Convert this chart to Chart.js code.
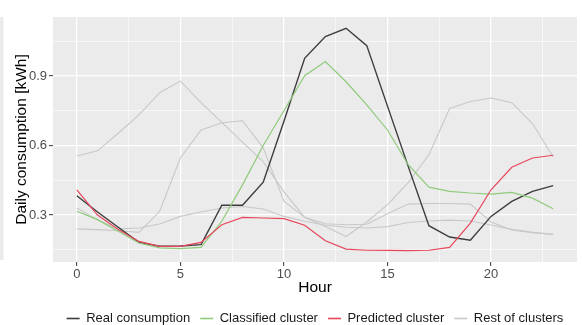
<!DOCTYPE html>
<html>
<head>
<meta charset="utf-8">
<script src="https://cdn.jsdelivr.net/npm/chart.js@4.4.1/dist/chart.umd.min.js"></script>
<style>
  html, body { margin: 0; padding: 0; background: #fff; }
  canvas { display: block; }
</style>
</head>
<body>
<canvas id="consumptionChart" width="582" height="325"></canvas>
<script>
// hourly profiles, kWh
const hours = [0, 1, 2, 3, 4, 5, 6, 7, 8, 9, 10, 11, 12, 13, 14, 15, 16, 17, 18, 19, 20, 21, 22, 23];
const realConsumption = [0.383, 0.313, 0.247, 0.182, 0.165, 0.166, 0.172, 0.342, 0.342, 0.442, 0.705, 0.976,
                         1.070, 1.106, 1.031, 0.770, 0.510, 0.254, 0.205, 0.191, 0.294, 0.359, 0.402, 0.427];
const classifiedCluster = [0.316, 0.280, 0.230, 0.179, 0.158, 0.155, 0.160, 0.273, 0.430, 0.600, 0.750, 0.901,
                           0.962, 0.875, 0.775, 0.667, 0.517, 0.420, 0.402, 0.395, 0.390, 0.398, 0.373, 0.327];
const predictedCluster = [0.409, 0.300, 0.237, 0.186, 0.165, 0.165, 0.182, 0.258, 0.290, 0.287, 0.284, 0.256,
                          0.189, 0.153, 0.148, 0.147, 0.146, 0.148, 0.160, 0.265, 0.409, 0.506, 0.546, 0.558];
const restCluster1 = [0.555, 0.577, 0.653, 0.732, 0.828, 0.878, 0.785, 0.700, 0.615, 0.530, 0.400, 0.290,
                      0.250, 0.207, 0.270, 0.345, 0.440, 0.560, 0.760, 0.790, 0.805, 0.785, 0.695, 0.550];
const restCluster2 = [0.240, 0.237, 0.232, 0.225, 0.316, 0.546, 0.667, 0.698, 0.707, 0.590, 0.360, 0.290,
                      0.262, 0.258, 0.260, 0.305, 0.347, 0.350, 0.350, 0.347, 0.270, 0.235, 0.224, 0.218];
const restCluster3 = [0.330, 0.280, 0.240, 0.244, 0.261, 0.294, 0.313, 0.330, 0.337, 0.326, 0.294, 0.273,
                      0.256, 0.247, 0.244, 0.250, 0.268, 0.274, 0.278, 0.274, 0.257, 0.238, 0.225, 0.215];

const xTicks = [0, 2.5, 5, 7.5, 10, 12.5, 15, 17.5, 20, 22.5];
const yTicks = [0.15, 0.3, 0.45, 0.6, 0.75, 0.9, 1.05];
const xLabels = [0, 5, 10, 15, 20];
const yLabels = [0.3, 0.6, 0.9];

const FONT = "'Liberation Sans', Arial, sans-serif";

const toPoints = (vals) => vals.map((v, i) => ({x: hours[i], y: v}));
const isLabelled = (list, v) => list.some(l => Math.abs(l - v) < 1e-6);

// grey panel behind the grid, plus the sliver of the neighbouring panel on the far left
const panelBackground = {
  id: 'panelBackground',
  beforeDraw(chart) {
    const {ctx, chartArea: a} = chart;
    ctx.save();
    ctx.fillStyle = '#ebebeb';
    ctx.fillRect(a.left, a.top, a.right - a.left, a.bottom - a.top);
    ctx.fillRect(0, a.top, 3.5, a.bottom - a.top - 2);
    ctx.restore();
  }
};

function lineSet(label, data, color, width, order) {
  return {
    label, data: toPoints(data),
    borderColor: color, backgroundColor: color,
    borderWidth: width, pointRadius: 0, tension: 0, order
  };
}

// legend keys a bit heavier than the plotted lines
const defaultLabels = Chart.defaults.plugins.legend.labels.generateLabels;
const legendLabels = (chart) => defaultLabels(chart).map(item => ({...item, lineWidth: 1.6}));

new Chart(document.getElementById('consumptionChart'), {
  type: 'line',
  data: {
    datasets: [
      lineSet('Real consumption', realConsumption, '#3d3d3d', 1.4, 2),
      lineSet('Classified cluster', classifiedCluster, '#8fcb7c', 1.2, 1),
      lineSet('Predicted cluster', predictedCluster, '#e8475b', 1.2, 0),
      lineSet('Rest of clusters', restCluster1, '#c8c8c8', 1.1, 3),
      lineSet('Rest of clusters', restCluster2, '#c8c8c8', 1.1, 3),
      lineSet('Rest of clusters', restCluster3, '#c8c8c8', 1.1, 3)
    ]
  },
  options: {
    responsive: false,
    animation: false,
    devicePixelRatio: 1,
    layout: { padding: { left: 0, right: 5, top: 17, bottom: 0 } },
    plugins: {
      tooltip: { enabled: false },
      legend: {
        position: 'bottom',
        fullSize: false,
        maxHeight: 23,
        labels: {
          usePointStyle: true,
          pointStyle: 'line',
          pointStyleWidth: 13,
          padding: 10,
          color: '#1a1a1a',
          font: { family: FONT, size: 13 },
          generateLabels: legendLabels,
          filter: (item) => item.datasetIndex < 4,
          sort: (a, b) => a.datasetIndex - b.datasetIndex
        }
      }
    },
    scales: {
      x: {
        type: 'linear',
        min: -1.15,
        max: 24.15,
        afterBuildTicks: (axis) => { axis.ticks = xTicks.map(v => ({value: v})); },
        afterFit: (axis) => { axis.height = 40; },
        border: { display: false },
        grid: {
          color: '#ffffff',
          lineWidth: (c) => isLabelled(xLabels, c.tick.value) ? 1.3 : 0.6,
          tickColor: (c) => isLabelled(xLabels, c.tick.value) ? '#333333' : 'rgba(0,0,0,0)',
          tickLength: 4,
          tickWidth: 1
        },
        ticks: {
          autoSkip: false,
          maxRotation: 0,
          padding: 1,
          color: '#4d4d4d',
          font: { family: FONT, size: 13 },
          callback: (v) => isLabelled(xLabels, v) ? String(v) : ''
        },
        title: {
          display: true,
          text: 'Hour',
          color: '#000000',
          font: { family: FONT, size: 15.5 },
          padding: { top: 0, bottom: 5 }
        }
      },
      y: {
        type: 'linear',
        min: 0.0972,
        max: 1.1546,
        afterBuildTicks: (axis) => { axis.ticks = yTicks.map(v => ({value: v})); },
        afterFit: (axis) => { axis.width = 53; },
        border: { display: false },
        grid: {
          color: '#ffffff',
          lineWidth: (c) => isLabelled(yLabels, c.tick.value) ? 1.3 : 0.6,
          tickColor: (c) => isLabelled(yLabels, c.tick.value) ? '#333333' : 'rgba(0,0,0,0)',
          tickLength: 4,
          tickWidth: 1
        },
        ticks: {
          autoSkip: false,
          padding: 2,
          color: '#4d4d4d',
          font: { family: FONT, size: 13 },
          callback: (v) => isLabelled(yLabels, v) ? v.toFixed(1) : ''
        },
        title: {
          display: true,
          text: 'Daily consumption [kWh]',
          color: '#000000',
          font: { family: FONT, size: 15.5 },
          padding: { top: 12, bottom: 0 }
        }
      }
    }
  },
  plugins: [panelBackground]
});
</script>
</body>
</html>
